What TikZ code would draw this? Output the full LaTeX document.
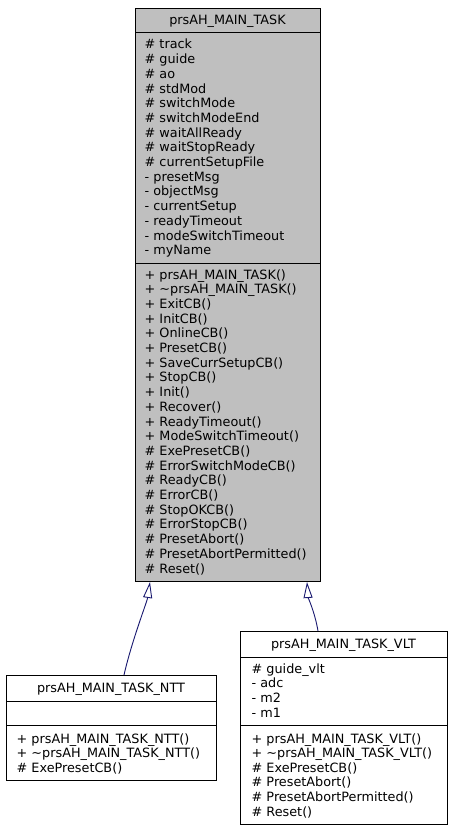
\documentclass[tikz,border=0pt]{standalone}
\usepackage{fontspec}
\setmainfont{DejaVu Sans}
\usetikzlibrary{arrows.meta,calc}
\definecolor{boxgrey}{RGB}{191,191,191}
\definecolor{edgeblue}{RGB}{25,25,112}
\tikzset{
  cls/.style={draw=black, line width=1pt, rectangle, inner sep=0pt, anchor=north west},
  txt/.style={font=\fontsize{12.8}{14}\selectfont, inner sep=0pt, anchor=base west},
  ttl/.style={font=\fontsize{12.8}{14}\selectfont, inner sep=0pt, anchor=base},
  sep/.style={draw=black, line width=1pt},
  inh/.style={draw=edgeblue, line width=0.9pt, -{Triangle[open, fill=white, length=16pt, width=9pt]}}
}
\begin{document}
\begin{tikzpicture}[x=1pt,y=-1pt]
\useasboundingbox (0,0) rectangle (451,829);
% main class
\node[cls, fill=boxgrey, minimum width=185pt, minimum height=573pt] (main) at (135,8) {};
\draw[sep] (main.west |- 0,33) -- (main.east |- 0,33);
\draw[sep] (main.west |- 0,263) -- (main.east |- 0,263);
\node[ttl] (mainT) at (227.5,24.5) {prsAH\_MAIN\_TASK};
\foreach \t [count=\i] in {\# track,\# guide,\# ao,\# stdMod,\# switchMode,\# switchModeEnd,\# waitAllReady,\# waitStopReady,\# currentSetupFile,- presetMsg,- objectMsg,- currentSetup,- readyTimeout,- modeSwitchTimeout,- myName}
  \node[txt] (ma\i) at (144.5,{49+14.7*(\i-1)}) {\t};
\foreach \t [count=\i] in {+ prsAH\_MAIN\_TASK(),+ \textasciitilde prsAH\_MAIN\_TASK(),+ ExitCB(),+ InitCB(),+ OnlineCB(),+ PresetCB(),+ SaveCurrSetupCB(),+ StopCB(),+ Init(),+ Recover(),+ ReadyTimeout(),+ ModeSwitchTimeout(),\# ExePresetCB(),\# ErrorSwitchModeCB(),\# ReadyCB(),\# ErrorCB(),\# StopOKCB(),\# ErrorStopCB(),\# PresetAbort(),\# PresetAbortPermitted(),\# Reset()}
  \node[txt] (mm\i) at (144.5,{279+14.7*(\i-1)}) {\t};
% NTT class
\node[cls, fill=white, minimum width=210pt, minimum height=105pt] (ntt) at (6,675) {};
\draw[sep] (ntt.west |- 0,701) -- (ntt.east |- 0,701);
\draw[sep] (ntt.west |- 0,725) -- (ntt.east |- 0,725);
\node[ttl] (nttT) at (111,692) {prsAH\_MAIN\_TASK\_NTT};
\foreach \t [count=\i] in {+ prsAH\_MAIN\_TASK\_NTT(),+ \textasciitilde prsAH\_MAIN\_TASK\_NTT(),\# ExePresetCB()}
  \node[txt] (nm\i) at (16.5,{743+14.7*(\i-1)}) {\t};
% VLT class
\node[cls, fill=white, minimum width=207pt, minimum height=193pt] (vlt) at (240,631) {};
\draw[sep] (vlt.west |- 0,657) -- (vlt.east |- 0,657);
\draw[sep] (vlt.west |- 0,725) -- (vlt.east |- 0,725);
\node[ttl] (vltT) at (343.5,648) {prsAH\_MAIN\_TASK\_VLT};
\foreach \t [count=\i] in {\# guide\_vlt,- adc,- m2,- m1}
  \node[txt] (va\i) at (251.5,{673+14.7*(\i-1)}) {\t};
\foreach \t [count=\i] in {+ prsAH\_MAIN\_TASK\_VLT(),+ \textasciitilde prsAH\_MAIN\_TASK\_VLT(),\# ExePresetCB(),\# PresetAbort(),\# PresetAbortPermitted(),\# Reset()}
  \node[txt] (vm\i) at (251.5,{743+14.6*(\i-1)}) {\t};
% inheritance edges
\draw[inh] ($(ntt.north west)+(118,0)$) .. controls ($(ntt.north west)+(126,-35)$) and ($(main.south west)+(12,20)$) .. ($(main.south west)+(15,0)$);
\draw[inh] ($(vlt.north west)+(78,0)$) .. controls ($(vlt.north west)+(75,-18)$) and ($(main.south west)+(173,15)$) .. ($(main.south west)+(172,0)$);
\end{tikzpicture}
\end{document}
